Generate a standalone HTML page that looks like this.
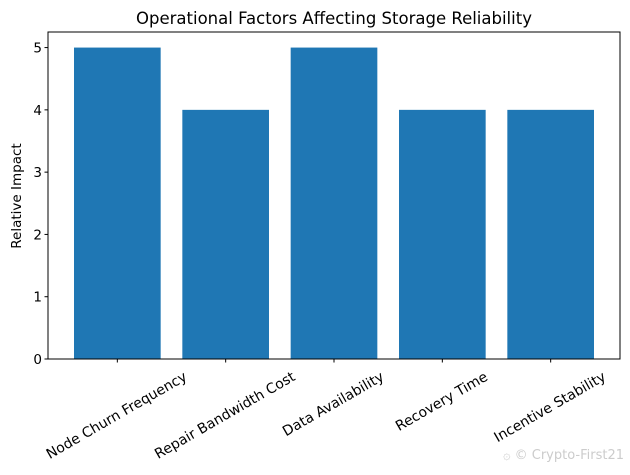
<!DOCTYPE html>
<html><head><meta charset="utf-8"><style>
body{margin:0;background:#fff}
text{font-family:"DejaVu Sans","Liberation Sans",sans-serif;fill:#000}
</style></head><body>
<svg id="chart" width="630" height="470" xmlns="http://www.w3.org/2000/svg">
<text x="334" y="24" font-size="16.5" text-anchor="middle">Operational Factors Affecting Storage Reliability</text>
<text transform="translate(21,196) rotate(-90)" font-size="13.5" text-anchor="middle">Relative Impact</text>
<g id="bars"></g><g id="axes"></g>
<text x="624" y="459" font-size="13" text-anchor="end" style="fill:#ccc">۞ © Crypto-First21</text>
</svg>
<script>
const categories=["Node Churn Frequency","Repair Bandwidth Cost","Data Availability","Recovery Time","Incentive Stability"];
const values=[5,4,5,4,4];
const yTicks=[0,1,2,3,4,5];
const L=48,R=620,T=32,B=359,ymax=5.25,xmin=-0.64,xmax=categories.length-1+0.64;
const ns="http://www.w3.org/2000/svg";
const sx=i=>L+(i-xmin)/(xmax-xmin)*(R-L);
const sy=v=>B-v/ymax*(B-T);
const unit=(R-L)/(xmax-xmin);
const bars=document.getElementById('bars'),axes=document.getElementById('axes');
function mk(tag,attrs,parent){const e=document.createElementNS(ns,tag);for(const k in attrs)e.setAttribute(k,attrs[k]);parent.appendChild(e);return e;}
values.forEach((v,i)=>{
 const r=mk('rect',{x:sx(i)-0.4*unit,y:sy(v),width:0.8*unit,height:B-sy(v),fill:'#1f77b4'},bars);
 
 
});
const frame=mk('rect',{x:L,y:T,width:R-L,height:B-T,fill:'none',stroke:'#000','stroke-width':1},axes);


yTicks.forEach(t=>{
 const y=sy(t);
 const l=mk('line',{x1:L-3.5,x2:L,y1:y,y2:y,stroke:'#000'},axes);
 
 
 const tx=mk('text',{x:L-6,y:y+5,'font-size':13.5,'text-anchor':'end'},axes);
 tx.textContent=t;
 
 
});
categories.forEach((c,i)=>{
 const x=sx(i);
 const l=mk('line',{x1:x,x2:x,y1:B,y2:B+3.5,stroke:'#000'},axes);
 
 
 const tx=mk('text',{'font-size':14,'text-anchor':'middle'},axes);
 tx.textContent=c;
 
 
 const w=tx.getComputedTextLength();
 const h=(w*0.5+14*0.866)/2;
 tx.setAttribute('transform','translate('+(x-1)+','+(B+10+h)+') rotate(-30)');
 tx.setAttribute('dy','5');
});
</script>
</body></html>
